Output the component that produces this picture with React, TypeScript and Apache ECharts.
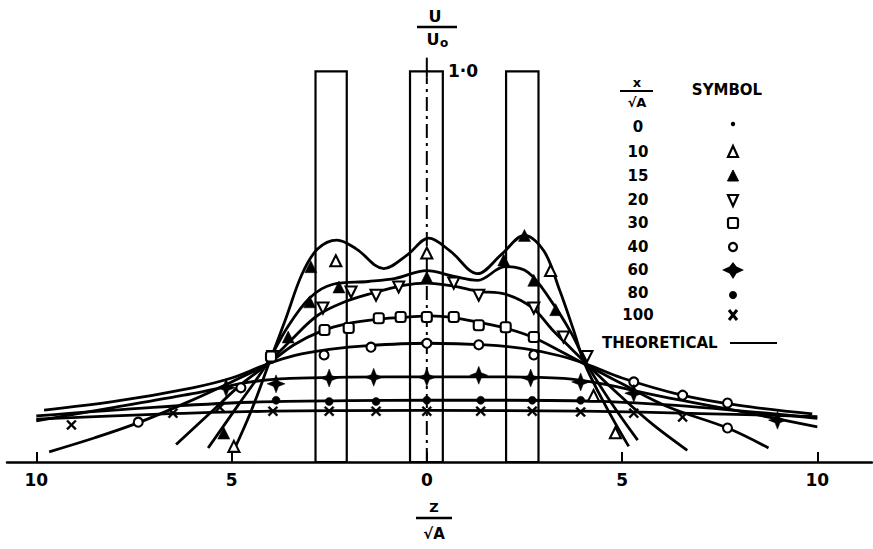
import React, { useEffect, useRef } from "react";
import * as echarts from "echarts";

// ---- axis ----
const X_MIN = -10.75;
const X_MAX = 11.4;
const Y_MAX = 1.18;
const xTicks = [-10, -5, 0, 5, 10];

// ---- buildings: [left z, right z, height U/U0] ----
const buildings = [
  [-2.85, -2.05, 1.0],
  [-0.43, 0.41, 1.0],
  [2.03, 2.86, 1.0],
];
const centerDash = [[0, 0], [0, 0.985]];
const centerTop = [[0, 0.985], [0, 1.035]];

// ---- theoretical curves (z/sqrtA, U/U0) ----
const curve10 = [[-4.94,0.03],[-4.5,0.13],[-4.05,0.25],[-3.6,0.37],[-3.2,0.48],[-2.8,0.545],[-2.3,0.568],[-1.8,0.545],[-1.1,0.495],[-0.5,0.53],[0.05,0.573],[0.6,0.54],[1.3,0.482],[1.9,0.53],[2.5,0.58],[3.0,0.54],[3.4,0.44],[3.75,0.34],[4.05,0.25],[4.6,0.14],[5.17,0.04]];
const curve15 = [[-5.6,0.036],[-4.8,0.15],[-4.1,0.25],[-3.6,0.34],[-3.0,0.42],[-2.4,0.455],[-1.5,0.462],[-0.8,0.47],[0,0.49],[0.7,0.475],[1.3,0.465],[2.0,0.5],[2.6,0.485],[3.2,0.41],[3.7,0.33],[4.1,0.25],[4.8,0.14],[5.4,0.056]];
const curve20 = [[-6.42,0.045],[-5.5,0.13],[-4.8,0.195],[-4.1,0.25],[-3.5,0.31],[-2.8,0.375],[-2.1,0.41],[-1.4,0.432],[-0.6,0.452],[0,0.458],[0.7,0.45],[1.3,0.437],[2.0,0.43],[2.7,0.395],[3.2,0.34],[3.7,0.29],[4.1,0.25],[5.0,0.165],[5.8,0.095],[6.67,0.03]];
const curve30 = [[-9.67,0.026],[-8.5,0.062],[-7.4,0.1],[-6.2,0.15],[-5.0,0.205],[-4.1,0.25],[-3.4,0.3],[-2.7,0.335],[-2.0,0.355],[-1.2,0.366],[-0.5,0.371],[0.1,0.374],[0.7,0.369],[1.3,0.358],[2.0,0.343],[2.7,0.32],[3.4,0.285],[4.0,0.253],[5.0,0.2],[6.2,0.14],[7.7,0.087],[8.75,0.036]];
const curve40 = [[-9.8,0.133],[-8,0.155],[-6,0.19],[-5,0.215],[-4.1,0.25],[-3.4,0.272],[-2.5,0.288],[-1.5,0.298],[0,0.304],[1.5,0.3],[2.5,0.29],[3.4,0.272],[4.1,0.25],[5,0.215],[6.5,0.172],[8,0.145],[9.87,0.123]];
const curve60 = [[-10,0.105],[-8,0.14],[-6,0.175],[-4.5,0.205],[-3.5,0.214],[-2,0.217],[0,0.218],[2,0.218],[3.5,0.214],[4.5,0.2],[6,0.168],[8,0.13],[10,0.09]];
const curve80 = [[-10,0.118],[-7,0.14],[-4.5,0.153],[-2,0.157],[0,0.158],[2,0.158],[4.5,0.155],[7,0.14],[10,0.112]];
const curve100 = [[-10,0.11],[-7,0.122],[-4,0.13],[0,0.132],[4,0.13],[7,0.124],[10,0.116]];

// ---- experimental points ----
const pts10 = [[-4.94,0.04],[-2.33,0.515],[0,0.535],[3.17,0.49],[4.27,0.17],[4.83,0.075]];
const pts15 = [[-5.2,0.074],[-3.55,0.32],[-3.0,0.41],[-2.97,0.5],[-2.25,0.448],[0,0.473],[1.97,0.517],[2.5,0.58],[2.74,0.465],[3.3,0.39]];
const pts20 = [[-3.94,0.27],[-2.66,0.394],[-1.94,0.435],[-1.3,0.427],[-0.72,0.448],[0.69,0.458],[1.33,0.427],[2.74,0.394],[3.5,0.32],[4.1,0.27]];
const pts30 = [[-3.99,0.27],[-2.62,0.338],[-2.0,0.343],[-1.23,0.368],[-0.67,0.371],[0,0.371],[0.69,0.371],[1.33,0.35],[2.02,0.345],[2.74,0.32]];
const pts40 = [[-7.39,0.102],[-4.76,0.19],[-2.63,0.274],[-1.43,0.294],[0,0.304],[1.33,0.3],[2.74,0.274],[5.3,0.205],[6.55,0.171],[7.7,0.151],[7.7,0.087]];
const pts60 = [[-5.14,0.19],[-3.86,0.2],[-2.5,0.215],[-1.36,0.217],[0,0.217],[1.33,0.222],[2.66,0.215],[3.94,0.205],[5.3,0.176],[8.98,0.107]];
const pts80 = [[-3.86,0.158],[-2.5,0.155],[-1.3,0.155],[0,0.158],[1.38,0.158],[2.7,0.158],[3.94,0.158]];
const pts100 = [[-9.1,0.095],[-6.5,0.125],[-5.3,0.14],[-3.94,0.13],[-2.5,0.13],[-1.3,0.13],[0,0.13],[1.38,0.13],[2.7,0.13],[3.94,0.128],[5.3,0.125],[6.55,0.115]];

// ---- legend ----
const legendValues = ["0", "10", "15", "20", "30", "40", "60", "80", "100"];
const legendKinds = ["dot", "tri", "triFill", "triDown", "square", "circle", "star", "dotBig", "cross"];

const FONT = '"DejaVu Sans", "Liberation Sans", sans-serif';
const BLACK = "#000";

const CROSS_PATH = "path://M0,1.4L1.4,0L5,3.6L8.6,0L10,1.4L6.4,5L10,8.6L8.6,10L5,6.4L1.4,10L0,8.6L3.6,5Z";
const STAR_PATH = "path://M5,0L6.4,3.6L10,5L6.4,6.4L5,10L3.6,6.4L0,5L3.6,3.6Z";

function lineSeries(data: number[][]) {
  return {
    type: "line",
    data,
    smooth: 0.35,
    symbol: "none",
    silent: true,
    lineStyle: { color: BLACK, width: 2.8 },
    z: 3,
  };
}

function scatterSeries(data: number[][], symbol: string, filled: boolean, size: number, rotate = 0) {
  return {
    type: "scatter",
    data,
    symbol,
    symbolSize: size,
    symbolRotate: rotate,
    silent: true,
    itemStyle: {
      color: filled ? BLACK : "#fff",
      borderColor: BLACK,
      borderWidth: filled ? 0.5 : 2.1,
      opacity: 1,
    },
    z: 5,
  };
}

function legendGraphics() {
  const els: any[] = [];
  const rowsY = [127, 152, 176, 200, 223, 247, 270, 293, 315];
  const colX = 638;
  const symX = 733;
  const txt = (x: number, y: number, t: string, size: number, align = "center") => ({
    type: "text",
    x,
    y,
    style: {
      text: t,
      fontFamily: FONT,
      fontWeight: "bold",
      fontSize: size,
      fill: BLACK,
      align,
      verticalAlign: "middle",
    },
  });
  els.push(txt(637, 82, "x", 13));
  els.push({ type: "line", shape: { x1: 620, y1: 91, x2: 653, y2: 91 }, style: { stroke: BLACK, lineWidth: 2.2 } });
  els.push(txt(637, 102, "√A", 13));
  els.push(txt(727, 90, "SYMBOL", 15));
  legendValues.forEach((v, i) => {
    const y = rowsY[i];
    els.push(txt(colX, y, v, 15));
    const k = legendKinds[i];
    const s = { stroke: BLACK, lineWidth: 2.2, fill: "#fff" };
    if (k === "dot") els.push({ type: "circle", shape: { cx: symX, cy: y - 3, r: 2.2 }, style: { fill: BLACK } });
    if (k === "tri") els.push({ type: "polygon", shape: { points: [[symX, y - 6], [symX + 5, y + 5], [symX - 5, y + 5]] }, style: s });
    if (k === "triFill") els.push({ type: "polygon", shape: { points: [[symX, y - 6], [symX + 5.5, y + 5], [symX - 5.5, y + 5]] }, style: { fill: BLACK, stroke: BLACK, lineWidth: 1 } });
    if (k === "triDown") els.push({ type: "polygon", shape: { points: [[symX - 5, y - 5], [symX + 5, y - 5], [symX, y + 6]] }, style: s });
    if (k === "square") els.push({ type: "rect", shape: { x: symX - 5, y: y - 5, width: 10, height: 10, r: 2 }, style: s });
    if (k === "circle") els.push({ type: "circle", shape: { cx: symX, cy: y, r: 4 }, style: s });
    if (k === "star") {
      els.push({ type: "polygon", shape: { points: [[symX, y - 8], [symX + 3.5, y - 3.5], [symX + 11, y], [symX + 3.5, y + 3.5], [symX, y + 9], [symX - 3.5, y + 3.5], [symX - 11, y], [symX - 3.5, y - 3.5]] }, style: { fill: BLACK } });
    }
    if (k === "dotBig") els.push({ type: "circle", shape: { cx: symX, cy: y + 2, r: 4 }, style: { fill: BLACK } });
    if (k === "cross") {
      els.push({ type: "line", shape: { x1: symX - 4, y1: y - 5, x2: symX + 4, y2: y + 5 }, style: { stroke: BLACK, lineWidth: 3 } });
      els.push({ type: "line", shape: { x1: symX + 4, y1: y - 5, x2: symX - 4, y2: y + 5 }, style: { stroke: BLACK, lineWidth: 3 } });
    }
  });
  els.push(txt(602, 343, "THEORETICAL", 15, "left"));
  els.push({ type: "line", shape: { x1: 730, y1: 343, x2: 777, y2: 343 }, style: { stroke: BLACK, lineWidth: 2.2 } });
  return els;
}

function axisTitleGraphics() {
  const t = (x: number, y: number, s: string, size: number) => ({
    type: "text",
    x,
    y,
    style: { text: s, fontFamily: FONT, fontWeight: "bold", fontSize: size, fill: BLACK, align: "center", verticalAlign: "middle" },
  });
  return [
    t(435, 16, "U", 16),
    { type: "line", shape: { x1: 417, y1: 27, x2: 457, y2: 27 }, style: { stroke: BLACK, lineWidth: 2.5 } },
    t(433, 39, "U", 16),
    t(444, 43, "o", 12),
    t(463, 71, "1·0", 17),
    t(434, 507, "Z", 13),
    { type: "line", shape: { x1: 416, y1: 518, x2: 452, y2: 518 }, style: { stroke: BLACK, lineWidth: 2.5 } },
    t(434, 534, "√A", 15),
  ];
}

export default function App() {
  const ref = useRef<HTMLDivElement>(null);
  useEffect(() => {
    if (!ref.current) return;
    const chart = echarts.init(ref.current, null, { renderer: "svg" });
    const option: any = {
      animation: false,
      backgroundColor: "#fff",
      grid: { left: 7, right: 1, top: 1, bottom: 87, containLabel: false },
      xAxis: {
        type: "value",
        min: X_MIN,
        max: X_MAX,
        axisLine: { show: true, onZero: false, lineStyle: { color: BLACK, width: 2.5 } },
        axisTick: { show: true, inside: true, length: 10, customValues: xTicks, lineStyle: { color: BLACK, width: 2 } },
        axisLabel: {
          show: true,
          customValues: xTicks,
          formatter: (v: number) => String(Math.abs(v)),
          color: BLACK,
          fontFamily: FONT,
          fontWeight: "bold",
          fontSize: 17,
          margin: 9,
        },
        splitLine: { show: false },
      },
      yAxis: { type: "value", min: 0, max: Y_MAX, show: false },
      series: [
        {
          type: "custom",
          data: buildings,
          silent: true,
          z: 2,
          renderItem: (params: any, api: any) => {
            const p0 = api.coord([api.value(0), api.value(2)]);
            const p1 = api.coord([api.value(1), 0]);
            return {
              type: "rect",
              shape: { x: p0[0], y: p0[1], width: p1[0] - p0[0], height: p1[1] - p0[1] },
              style: { fill: "none", stroke: BLACK, lineWidth: 2.2 },
            };
          },
        },
        {
          type: "line",
          data: centerDash,
          symbol: "none",
          silent: true,
          lineStyle: { color: BLACK, width: 2, type: [14, 5, 3, 5] },
          z: 2,
        },
        {
          type: "line",
          data: centerTop,
          symbol: "none",
          silent: true,
          lineStyle: { color: BLACK, width: 2 },
          z: 2,
        },
        lineSeries(curve10),
        lineSeries(curve15),
        lineSeries(curve20),
        lineSeries(curve30),
        lineSeries(curve40),
        lineSeries(curve60),
        lineSeries(curve80),
        lineSeries(curve100),
        scatterSeries(pts10, "triangle", false, 11),
        scatterSeries(pts15, "triangle", true, 12),
        scatterSeries(pts20, "triangle", false, 11, 180),
        scatterSeries(pts30, "roundRect", false, 10),
        scatterSeries(pts40, "circle", false, 9),
        scatterSeries(pts60, STAR_PATH, true, 18),
        scatterSeries(pts80, "circle", true, 8),
        scatterSeries(pts100, CROSS_PATH, true, 10),
      ],
      graphic: [...legendGraphics(), ...axisTitleGraphics()],
    };
    chart.setOption(option);
    return () => chart.dispose();
  }, []);
  return (
    <div
      ref={ref}
      style={{ position: "fixed", left: 0, top: 0, width: 873, height: 549, background: "#fff" }}
    />
  );
}
